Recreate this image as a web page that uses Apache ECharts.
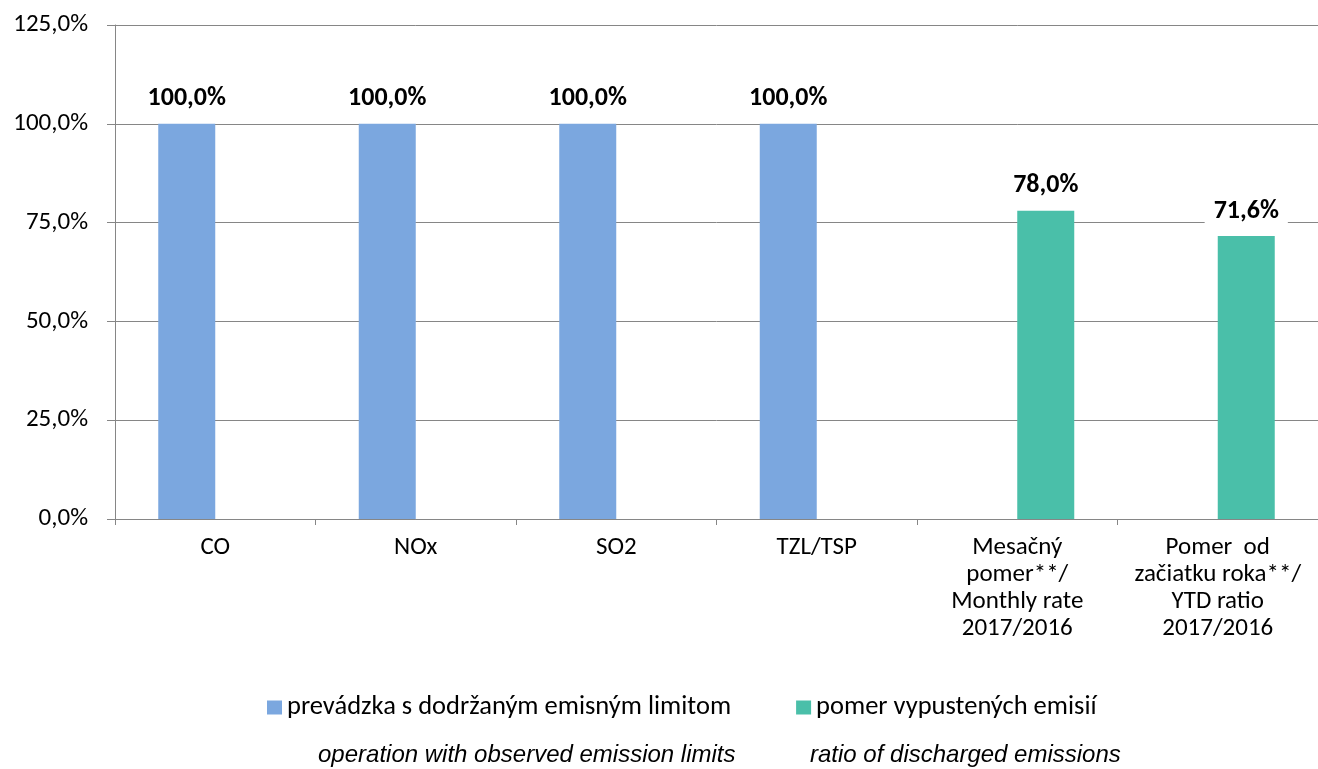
<!DOCTYPE html>
<html>
<head>
<meta charset="utf-8">
<script src="https://cdn.jsdelivr.net/npm/echarts@6/dist/echarts.min.js"></script>
<style>
html,body{margin:0;padding:0;background:#fff;}
#chart{width:1318px;height:769px;}
</style>
</head>
<body>
<div id="chart"></div>
<script>
var categories = ['CO', 'NOx', 'SO2', 'TZL/TSP', 'Mesačný\npomer**/\nMonthly rate\n2017/2016', 'Pomer  od\nzačiatku roka**/\nYTD ratio\n2017/2016'];
var seriesNames = ['prevádzka s dodržaným emisným limitom', 'pomer vypustených emisií'];
var operationValues = [100.0, 100.0, 100.0, 100.0, null, null];
var ratioValues = [null, null, null, null, 78.0, 71.6];
var yTicks = [0, 25, 50, 75, 100, 125];
var englishNotes = ['operation with observed emission limits', 'ratio of discharged emissions'];
var seriesColors = ['#7BA7DF', '#4ABFA9'];

var FONT = "Carlito, 'Open Sans', 'Noto Sans', sans-serif";
function pct(v){ return v.toFixed(1).replace('.', ',') + '%'; }

var chart = echarts.init(document.getElementById('chart'));
var labelCfg = {
  show: true, position: 'top', distance: 10,
  fontFamily: FONT, fontSize: 26, fontWeight: 'bold', color: '#000',
  backgroundColor: '#fff', padding: [2, 9, 2, 9],
  formatter: function(p){ return p.value == null ? '' : pct(p.value); }
};
var noteFont = "'Liberation Sans', Arial, sans-serif";

chart.setOption({
  animation: false,
  grid: {left: 115, width: 1212, top: 25, height: 494, containLabel: false},
  legend: {
    left: 262, top: 689, itemWidth: 15, itemHeight: 14, itemGap: 65, icon: 'rect',
    textStyle: {fontFamily: FONT, fontSize: 26.5, color: '#000'},
    data: seriesNames
  },
  xAxis: {
    type: 'category', data: categories,
    axisLine: {lineStyle: {color: '#868686', width: 1}},
    axisTick: {show: true, length: 6, lineStyle: {color: '#868686'}},
    axisLabel: {fontFamily: FONT, fontSize: 25, color: '#000', margin: 15, lineHeight: 27, interval: 0}
  },
  yAxis: {
    type: 'value', min: yTicks[0], max: yTicks[yTicks.length-1], interval: 25,
    axisLine: {show: true, lineStyle: {color: '#868686', width: 1}},
    axisTick: {show: true, length: 8, lineStyle: {color: '#868686'}},
    splitLine: {lineStyle: {color: '#868686', width: 1}},
    axisLabel: {fontFamily: FONT, fontSize: 25, color: '#000', margin: 27, formatter: function(v){ return pct(v); }}
  },
  series: [
    {name: seriesNames[0], type: 'bar', data: operationValues, barWidth: 57, barGap: '0%',
     itemStyle: {color: seriesColors[0]}, label: labelCfg},
    {name: seriesNames[1], type: 'bar', data: ratioValues, barWidth: 57, barGap: '0%',
     itemStyle: {color: seriesColors[1]}, label: labelCfg}
  ],
  graphic: [
    {type: 'text', left: 318, top: 743, style: {text: englishNotes[0], fontFamily: noteFont, fontStyle: 'italic', fontSize: 24, fill: '#000'}},
    {type: 'text', left: 810, top: 743, style: {text: englishNotes[1], fontFamily: noteFont, fontStyle: 'italic', fontSize: 24, fill: '#000'}}
  ]
});
</script>
</body>
</html>
